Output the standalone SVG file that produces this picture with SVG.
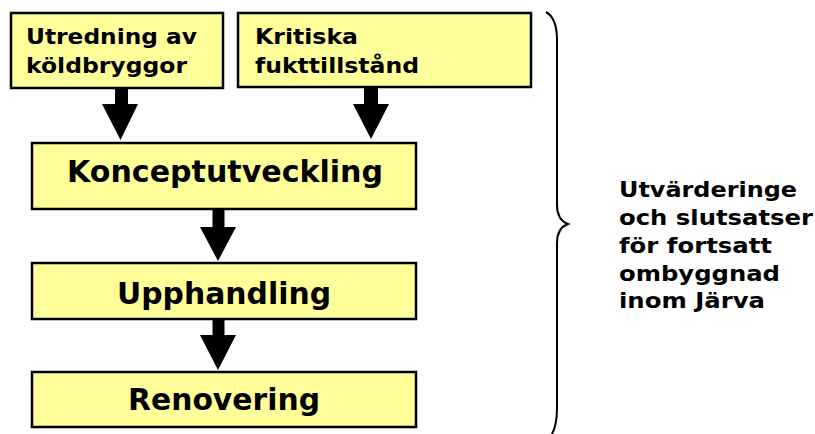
<svg xmlns="http://www.w3.org/2000/svg" width="815" height="434" viewBox="0 0 815 434">
<style>
.box{fill:#FFFF99;stroke:#000;stroke-width:2.5}
.t{font-family:"DejaVu Sans","Verdana",sans-serif;font-weight:bold;fill:#000}
.s{font-size:21px}
.b{font-size:30px}
.arr{fill:#000}
.brace{fill:none;stroke:#000;stroke-width:2}
</style>
<rect width="815" height="434" fill="#fff"/>
<g id="connectors">
<polygon class="arr" points="115,88 128,88 128,104 138,104 120.5,140 102,104 115,104"/>
<polygon class="arr" points="364,87 378,87 378,104 389,104 371,139 353,104 364,104"/>
<polygon class="arr" points="212.5,209 224.5,209 224.5,227 236,227 218,261 200,227 212.5,227"/>
<polygon class="arr" points="212.5,319 224.5,319 224.5,335 236,335 218,370 200,335 212.5,335"/>
</g>
<g id="n1">
<rect class="box" x="11" y="13" width="212" height="75"/>
<text class="t s" x="26" y="44" textLength="171" lengthAdjust="spacingAndGlyphs">Utredning av</text>
<text class="t s" x="26" y="73" textLength="161" lengthAdjust="spacingAndGlyphs">köldbryggor</text>
</g>
<g id="n2">
<rect class="box" x="238" y="13" width="293" height="74"/>
<text class="t s" x="255" y="44" textLength="103" lengthAdjust="spacingAndGlyphs">Kritiska</text>
<text class="t s" x="255" y="73" textLength="164" lengthAdjust="spacingAndGlyphs">fukttillstånd</text>
</g>
<g id="n3">
<rect class="box" x="32" y="143" width="384" height="66"/>
<text class="t b" x="225" y="182" text-anchor="middle" textLength="316" lengthAdjust="spacingAndGlyphs">Konceptutveckling</text>
</g>
<g id="n4">
<rect class="box" x="32" y="263" width="384" height="56"/>
<text class="t b" x="224" y="304" text-anchor="middle" textLength="214" lengthAdjust="spacingAndGlyphs">Upphandling</text>
</g>
<g id="n5">
<rect class="box" x="32" y="372" width="384" height="55"/>
<text class="t b" x="224" y="410" text-anchor="middle" textLength="192" lengthAdjust="spacingAndGlyphs">Renovering</text>
</g>
<g id="brace">
<path class="brace" d="M546,12 Q557,18 557,40 L557,205 Q557,220 568,224 Q557,228 557,243 L557,408 Q557,426 551,436"/>
</g>
<g id="n6">
<text class="t s" x="619" y="197" textLength="178" lengthAdjust="spacingAndGlyphs">Utvärderinge</text>
<text class="t s" x="619" y="225" textLength="194" lengthAdjust="spacingAndGlyphs">och slutsatser</text>
<text class="t s" x="619" y="253" textLength="153" lengthAdjust="spacingAndGlyphs">för fortsatt</text>
<text class="t s" x="619" y="281" textLength="161" lengthAdjust="spacingAndGlyphs">ombyggnad</text>
<text class="t s" x="619" y="308" textLength="146" lengthAdjust="spacingAndGlyphs">inom Järva</text>
</g>
</svg>
